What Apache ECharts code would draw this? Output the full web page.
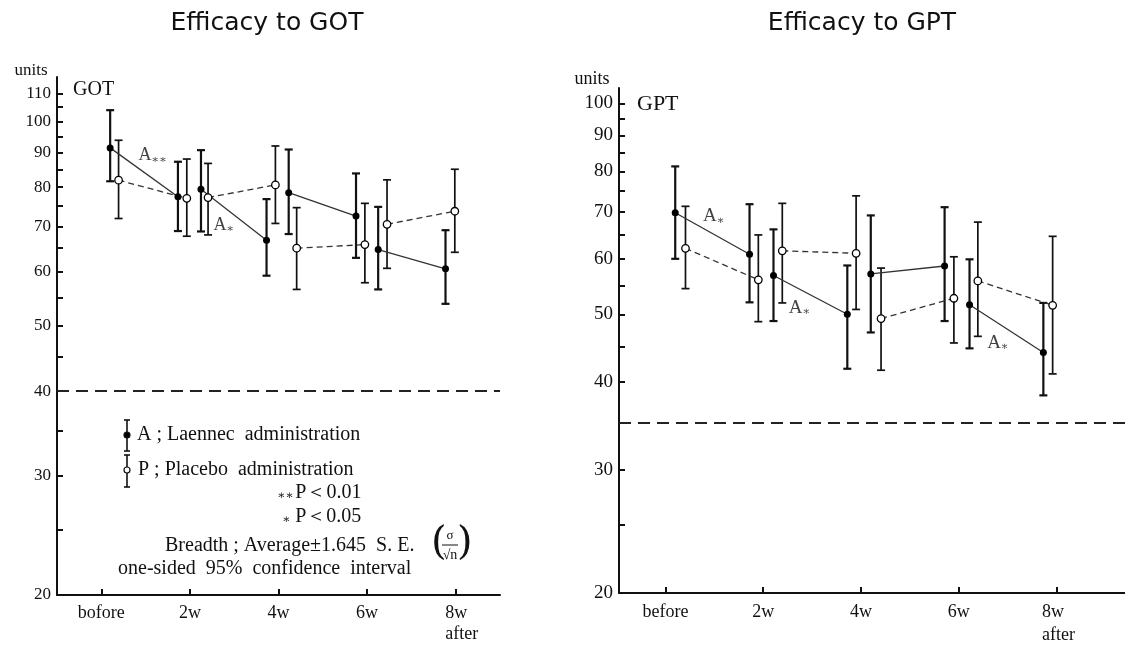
<!DOCTYPE html>
<html><head><meta charset="utf-8">
<script src="https://cdn.jsdelivr.net/npm/echarts@6/dist/echarts.min.js"></script>
<style>html,body{margin:0;padding:0;background:#fff}#c{width:1125px;height:645px}</style>
</head><body><div id="c"></div>
<script>
// ---------- data ----------
const weekTicks = [0, 2, 4, 6, 8];
const gotXLabels = ['bofore', '2w', '4w', '6w', '8w\nafter'];
const gptXLabels = ['before', '2w', '4w', '6w', '8w\nafter'];
const gotYTicks = [20, 30, 40, 50, 60, 70, 80, 90, 100, 110];
const gotYMinor = [25, 35, 45, 55, 65, 75, 85, 95, 105];
const gptYTicks = [20, 30, 40, 50, 60, 70, 80, 90, 100];
const gptYMinor = [25, 35, 45, 55, 65, 75, 85, 95];

// GOT, Laennec (A) - filled
const gotAWeeks = [0.2, 1.73, 2.25, 3.73, 4.23, 5.75, 6.25, 7.77];
const gotAMean  = [91.4, 77.4, 79.4, 66.8, 78.5, 72.5, 64.7, 60.6];
const gotAHigh  = [103.9, 87.2, 90.7, 76.8, 90.9, 83.8, 74.8, 69.1];
const gotALow   = [81.6, 68.9, 68.8, 59.2, 68.2, 62.9, 56.5, 53.8];
// GOT, Placebo (P) - open
const gotPWeeks = [0.39, 1.93, 2.41, 3.93, 4.41, 5.95, 6.45, 7.98];
const gotPMean  = [81.9, 77.0, 77.2, 80.6, 65.0, 65.8, 70.5, 73.7];
const gotPHigh  = [93.8, 88.0, 86.7, 92.0, 74.6, 75.7, 82.0, 85.0];
const gotPLow   = [71.9, 67.7, 68.0, 70.7, 56.5, 57.8, 60.7, 64.1];

// GPT, Laennec (A) - filled
const gptAWeeks = [0.2, 1.72, 2.21, 3.72, 4.20, 5.71, 6.22, 7.73];
const gptAMean  = [69.8, 60.9, 56.8, 50.0, 57.1, 58.6, 51.6, 44.1];
const gptAHigh  = [81.3, 71.8, 66.1, 58.7, 69.2, 71.1, 59.9, 51.9];
const gptALow   = [60.0, 52.0, 48.9, 41.8, 47.1, 48.9, 44.7, 38.3];
// GPT, Placebo (P) - open
const gptPWeeks = [0.41, 1.90, 2.39, 3.90, 4.41, 5.90, 6.39, 7.92];
const gptPMean  = [62.1, 56.0, 61.6, 61.1, 49.3, 52.7, 55.8, 51.5];
const gptPHigh  = [71.3, 64.9, 72.0, 73.8, 58.2, 60.4, 67.7, 64.6];
const gptPLow   = [54.4, 48.8, 51.9, 50.8, 41.6, 45.5, 46.5, 41.1];

const gotLimit = 40;
const gptLimit = 35;

const gotNoteWeeks = [0.83, 2.52];
const gotNoteValues = [89, 70.3];
const gotNoteMarks = ['∗∗', '∗'];
const gptNoteWeeks = [0.76, 2.51, 6.57];
const gptNoteValues = [69.0, 51.1, 45.5];
const gptNoteMarks = ['∗', '∗', '∗'];

// ---------- rendering ----------
const SERIF = '"Liberation Serif", "DejaVu Serif", serif';
const INK = '#111';

function errRender(lw, cap) {
  return function (params, api) {
    const x = api.value(0), lo = api.value(1), hi = api.value(2);
    const p1 = api.coord([x, hi]), p2 = api.coord([x, lo]);
    const st = { stroke: INK, lineWidth: lw };
    return {
      type: 'group', children: [
        { type: 'line', shape: { x1: p1[0], y1: p1[1], x2: p2[0], y2: p2[1] }, style: st },
        { type: 'line', shape: { x1: p1[0] - cap, y1: p1[1], x2: p1[0] + cap, y2: p1[1] }, style: st },
        { type: 'line', shape: { x1: p2[0] - cap, y1: p2[1], x2: p2[0] + cap, y2: p2[1] }, style: st }
      ]
    };
  };
}

function panelSeries(idx, groups, limit, noteW, noteV, noteM, noteSize) {
  const out = [];
  groups.forEach(function (g) {
    out.push({
      type: 'custom', xAxisIndex: idx, yAxisIndex: idx, z: 2,
      renderItem: errRender(g.filled ? 2.2 : 1.7, 4),
      encode: { x: 0, y: [1, 2] },
      data: g.weeks.map(function (w, i) { return [w, g.low[i], g.high[i]]; })
    });
    for (let k = 0; k < g.weeks.length; k += 2) {
      const s = {
        type: 'line', xAxisIndex: idx, yAxisIndex: idx, z: 3,
        data: [[g.weeks[k], g.mean[k]], [g.weeks[k + 1], g.mean[k + 1]]],
        symbol: 'circle', symbolSize: g.filled ? 7 : 7.5, showSymbol: true,
        itemStyle: g.filled ? { color: '#000' } : { color: '#fff', borderColor: '#000', borderWidth: 1.3 },
        lineStyle: { color: '#333', width: 1.3, type: g.filled ? 'solid' : [6, 4] },
        emphasis: { disabled: true }
      };
      if (g.filled && k === 0) {
        s.markLine = {
          silent: true, symbol: ['none', 'none'], label: { show: false },
          lineStyle: { color: '#222', width: 2, type: [12, 7] },
          data: [{ yAxis: limit }]
        };
      }
      out.push(s);
    }
  });
  out.push({
    type: 'scatter', xAxisIndex: idx, yAxisIndex: idx, z: 4,
    symbolSize: 1, itemStyle: { color: 'rgba(0,0,0,0)' },
    data: noteW.map(function (w, i) { return [w, noteV[i], noteM[i]]; }),
    label: {
      show: true, position: 'right', distance: 0,
      formatter: function (p) { return '{a|A}{s|' + p.value[2] + '}'; },
      rich: {
        a: { fontFamily: SERIF, fontSize: noteSize, color: INK },
        s: { fontFamily: SERIF, fontSize: noteSize * 0.62, color: INK, padding: [noteSize * 0.45, 0, 0, 0] }
      }
    }
  });
  return out;
}

function xAxisCfg(idx, min, max, labels, fs, lh, pad) {
  return {
    type: 'value', gridIndex: idx, min: min, max: max,
    axisLine: { show: true, onZero: false, lineStyle: { color: INK, width: 2 } },
    axisTick: { show: true, inside: true, length: 6, customValues: weekTicks, lineStyle: { color: INK, width: 2 } },
    axisLabel: {
      customValues: weekTicks, margin: 8, color: INK, fontFamily: SERIF, fontSize: fs, lineHeight: lh,
      formatter: function (v) {
        const t = labels[weekTicks.indexOf(v)];
        if (t && t.indexOf('\n') >= 0) {
          return t.split('\n').map(function (s) { return '{r|' + s + '}'; }).join('\n');
        }
        return t || '';
      },
      rich: { r: { align: 'left', fontFamily: SERIF, fontSize: fs, lineHeight: lh, color: INK, padding: [0, 0, 0, pad] } }
    },
    splitLine: { show: false }
  };
}

function yAxisCfg(idx, min, max, ticks, minor, fs) {
  return {
    type: 'log', logBase: 10, gridIndex: idx, min: min, max: max,
    axisLine: { show: true, onZero: false, lineStyle: { color: INK, width: 2 } },
    axisTick: { show: true, inside: true, length: 6, customValues: ticks.concat(minor), lineStyle: { color: INK, width: 2 } },
    axisLabel: { customValues: ticks, margin: 6, color: INK, fontFamily: SERIF, fontSize: fs, formatter: function (v) { return String(Math.round(v)); } },
    splitLine: { show: false }, minorTick: { show: false }
  };
}

const gotGroups = [
  { weeks: gotAWeeks, mean: gotAMean, low: gotALow, high: gotAHigh, filled: true },
  { weeks: gotPWeeks, mean: gotPMean, low: gotPLow, high: gotPHigh, filled: false }
];
const gptGroups = [
  { weeks: gptAWeeks, mean: gptAMean, low: gptALow, high: gptAHigh, filled: true },
  { weeks: gptPWeeks, mean: gptPMean, low: gptPLow, high: gptPHigh, filled: false }
];

function txt(x, y, text, fs, opts) {
  opts = opts || {};
  return {
    type: 'text', x: x, y: y, silent: true,
    style: {
      text: text, fontFamily: opts.family || SERIF, fontSize: fs, fill: INK,
      textAlign: opts.align || 'left', textVerticalAlign: 'middle', rich: opts.rich
    }
  };
}
function iconBar(x, y1, y2, cy, filled) {
  const st = { stroke: INK, lineWidth: 1.6 };
  return [
    { type: 'line', shape: { x1: x, y1: y1, x2: x, y2: y2 }, style: st },
    { type: 'line', shape: { x1: x - 3, y1: y1, x2: x + 3, y2: y1 }, style: st },
    { type: 'line', shape: { x1: x - 3, y1: y2, x2: x + 3, y2: y2 }, style: st },
    { type: 'circle', shape: { cx: x, cy: cy, r: 3 }, style: { fill: filled ? '#000' : '#fff', stroke: INK, lineWidth: 1.2 }, z: 10 }
  ];
}

const graphics = [
  txt(267, 23, 'Efficacy to GOT', 25, { family: '"DejaVu Sans", sans-serif', align: 'center' }),
  txt(862, 23, 'Efficacy to GPT', 25, { family: '"DejaVu Sans", sans-serif', align: 'center' }),
  txt(31, 71, 'units', 17, { align: 'center' }),
  txt(592, 79, 'units', 18, { align: 'center' }),
  txt(73, 90, 'GOT', 20),
  txt(637, 104, 'GPT', 22),
  txt(137, 435, 'A ; Laennec  administration', 20),
  txt(138, 470, 'P ; Placebo  administration', 20),
  txt(277, 493, '{s|∗∗}{t|P＜0.01}', 20, { rich: { s: { fontSize: 12, fontFamily: SERIF, padding: [6, 2, 0, 0] }, t: { fontSize: 20, fontFamily: SERIF } } }),
  txt(282, 517, '{s|∗}{t| P＜0.05}', 20, { rich: { s: { fontSize: 12, fontFamily: SERIF, padding: [6, 0, 0, 0] }, t: { fontSize: 20, fontFamily: SERIF } } }),
  txt(165, 546, 'Breadth ; Average±1.645  S. E.', 20),
  txt(118, 569, 'one-sided  95%  confidence  interval', 20),
  // (σ/√n)
  txt(431, 544, '(', 40, { family: '"DejaVu Serif", serif' }),
  txt(457, 544, ')', 40, { family: '"DejaVu Serif", serif' }),
  txt(450, 536, 'σ', 13, { align: 'center' }),
  { type: 'line', shape: { x1: 442, y1: 545, x2: 458, y2: 545 }, style: { stroke: INK, lineWidth: 1 } },
  txt(450, 555, '√n', 14, { align: 'center' })
].concat(iconBar(127, 420, 451, 435, true)).concat(iconBar(127, 455, 487, 470, false));

const option = {
  animation: false,
  backgroundColor: '#fff',
  grid: [
    { left: 57, top: 77, width: 443, height: 518, containLabel: false, outerBoundsMode: 'none' },
    { left: 619, top: 88, width: 506, height: 505, containLabel: false, outerBoundsMode: 'none' }
  ],
  xAxis: [
    xAxisCfg(0, -1, 9, gotXLabels, 18, 21, 12),
    xAxisCfg(1, -0.95, 9.4, gptXLabels, 18, 23, 4)
  ],
  yAxis: [
    yAxisCfg(0, 20, 116.3, gotYTicks, gotYMinor, 17),
    yAxisCfg(1, 20, 105.2, gptYTicks, gptYMinor, 19)
  ],
  series: panelSeries(0, gotGroups, gotLimit, gotNoteWeeks, gotNoteValues, gotNoteMarks, 18)
    .concat(panelSeries(1, gptGroups, gptLimit, gptNoteWeeks, gptNoteValues, gptNoteMarks, 19)),
  graphic: graphics
};

const chart = echarts.init(document.getElementById('c'));
chart.setOption(option);
</script></body></html>
